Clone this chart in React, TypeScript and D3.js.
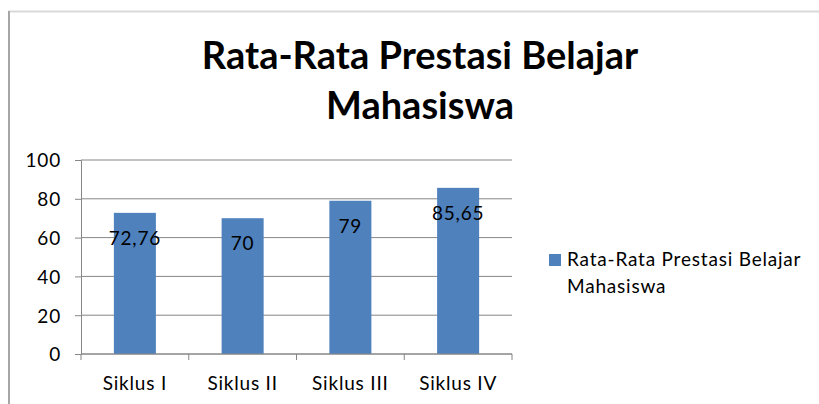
import React, { useRef, useEffect } from 'react';
import * as d3 from 'd3';

const categories: string[] = ['Siklus I', 'Siklus II', 'Siklus III', 'Siklus IV'];
const values: number[] = [72.76, 70, 79, 85.65];
const valueLabels: string[] = ['72,76', '70', '79', '85,65'];
const yTicks: number[] = [0, 20, 40, 60, 80, 100];
const titleLines: string[] = ['Rata-Rata Prestasi Belajar', 'Mahasiswa'];
const legendLines: string[] = ['Rata-Rata Prestasi Belajar', 'Mahasiswa'];

export default function App() {
  const svgRef = useRef<SVGSVGElement>(null);

  useEffect(() => {
    const svg = d3.select(svgRef.current);
    svg.selectAll('*').remove();

    const width = 819;
    const height = 404;
    const margin = { top: 160, left: 81, right: 307, bottom: 50 };
    const font = 'Lato, "Open Sans", sans-serif';
    const fontSize = 19;
    const spacing = 0.8;
    const barColor = '#4f81bd';
    const gridColor = '#868686';

    // Chart frame (only top and left edge visible in the crop)
    svg.append('line')
      .attr('x1', 8).attr('x2', width)
      .attr('y1', 11.5).attr('y2', 11.5)
      .attr('stroke', '#d9d9d9').attr('stroke-width', 2);
    svg.append('line')
      .attr('x1', 9).attr('x2', 9)
      .attr('y1', 11).attr('y2', height)
      .attr('stroke', '#a6a6a6').attr('stroke-width', 2);

    // Title
    svg.append('text')
      .attr('x', 420)
      .attr('text-anchor', 'middle')
      .attr('font-family', font)
      .attr('font-weight', 'bold')
      .attr('font-size', 38)
      .attr('fill', '#000')
      .selectAll('tspan')
      .data(titleLines)
      .enter()
      .append('tspan')
      .attr('x', 420)
      .attr('y', (d, i) => 69 + i * 50)
      .text(d => d);

    const plotRight = width - margin.right;
    const plotBottom = height - margin.bottom;

    const xScale = d3.scaleBand<string>()
      .domain(categories)
      .range([margin.left, plotRight])
      .padding(0);

    const yScale = d3.scaleLinear()
      .domain([0, 100])
      .range([plotBottom, margin.top]);

    // Gridlines
    svg.append('g')
      .selectAll('line')
      .data(yTicks)
      .enter()
      .append('line')
      .attr('x1', margin.left).attr('x2', plotRight)
      .attr('y1', d => yScale(d)).attr('y2', d => yScale(d))
      .attr('stroke', gridColor).attr('stroke-width', 1);

    // Y axis
    const yAxis = d3.axisLeft(yScale).tickValues(yTicks).tickSize(6).tickPadding(14);
    const yG = svg.append('g')
      .attr('transform', `translate(${margin.left},0)`)
      .call(yAxis);
    yG.select('.domain').attr('stroke', gridColor);
    yG.selectAll('.tick line').attr('stroke', gridColor);
    yG.selectAll('.tick text')
      .attr('font-family', font)
      .attr('font-size', fontSize)
      .attr('letter-spacing', spacing)
      .attr('fill', '#000')
      .attr('dy', '0.36em');

    // Bars
    const barWidth = xScale.bandwidth() * 0.39;
    svg.append('g')
      .selectAll('rect')
      .data(values)
      .enter()
      .append('rect')
      .attr('x', (d, i) => (xScale(categories[i]) as number) + (xScale.bandwidth() - barWidth) / 2)
      .attr('y', d => yScale(d))
      .attr('width', barWidth)
      .attr('height', d => plotBottom - yScale(d))
      .attr('fill', barColor);

    // Data labels
    svg.append('g')
      .selectAll('text')
      .data(values)
      .enter()
      .append('text')
      .attr('x', (d, i) => (xScale(categories[i]) as number) + xScale.bandwidth() / 2)
      .attr('y', d => yScale(d) + 32)
      .attr('text-anchor', 'middle')
      .attr('font-family', font)
      .attr('font-size', fontSize)
      .attr('letter-spacing', spacing)
      .attr('fill', '#000')
      .text((d, i) => valueLabels[i]);

    // X axis
    const xAxis = d3.axisBottom(xScale).tickSize(0).tickPadding(0);
    const xG = svg.append('g')
      .attr('transform', `translate(0,${plotBottom})`)
      .call(xAxis);
    xG.select('.domain').remove();
    xG.append('line')
      .attr('x1', margin.left).attr('x2', plotRight)
      .attr('stroke', gridColor);
    // category separators
    const boundaries = categories.map(c => xScale(c) as number).concat([plotRight]);
    xG.selectAll('.sep')
      .data(boundaries)
      .enter()
      .append('line')
      .attr('class', 'sep')
      .attr('x1', d => d).attr('x2', d => d)
      .attr('y1', 0).attr('y2', 6)
      .attr('stroke', gridColor);
    xG.selectAll('.tick text')
      .attr('font-family', font)
      .attr('font-size', fontSize)
      .attr('letter-spacing', spacing)
      .attr('fill', '#000')
      .attr('dy', 0)
      .attr('y', 36);

    // Legend
    svg.append('rect')
      .attr('x', 549).attr('y', 254)
      .attr('width', 12).attr('height', 12)
      .attr('fill', barColor);
    svg.append('text')
      .attr('font-family', font)
      .attr('font-size', fontSize)
      .attr('letter-spacing', spacing)
      .attr('fill', '#000')
      .selectAll('tspan')
      .data(legendLines)
      .enter()
      .append('tspan')
      .attr('x', 567)
      .attr('y', (d, i) => 266 + i * 27)
      .text(d => d);
  }, []);

  return (
    <svg
      ref={svgRef}
      width={819}
      height={404}
      style={{ position: 'absolute', top: 0, left: 0, background: '#fff' }}
    />
  );
}
